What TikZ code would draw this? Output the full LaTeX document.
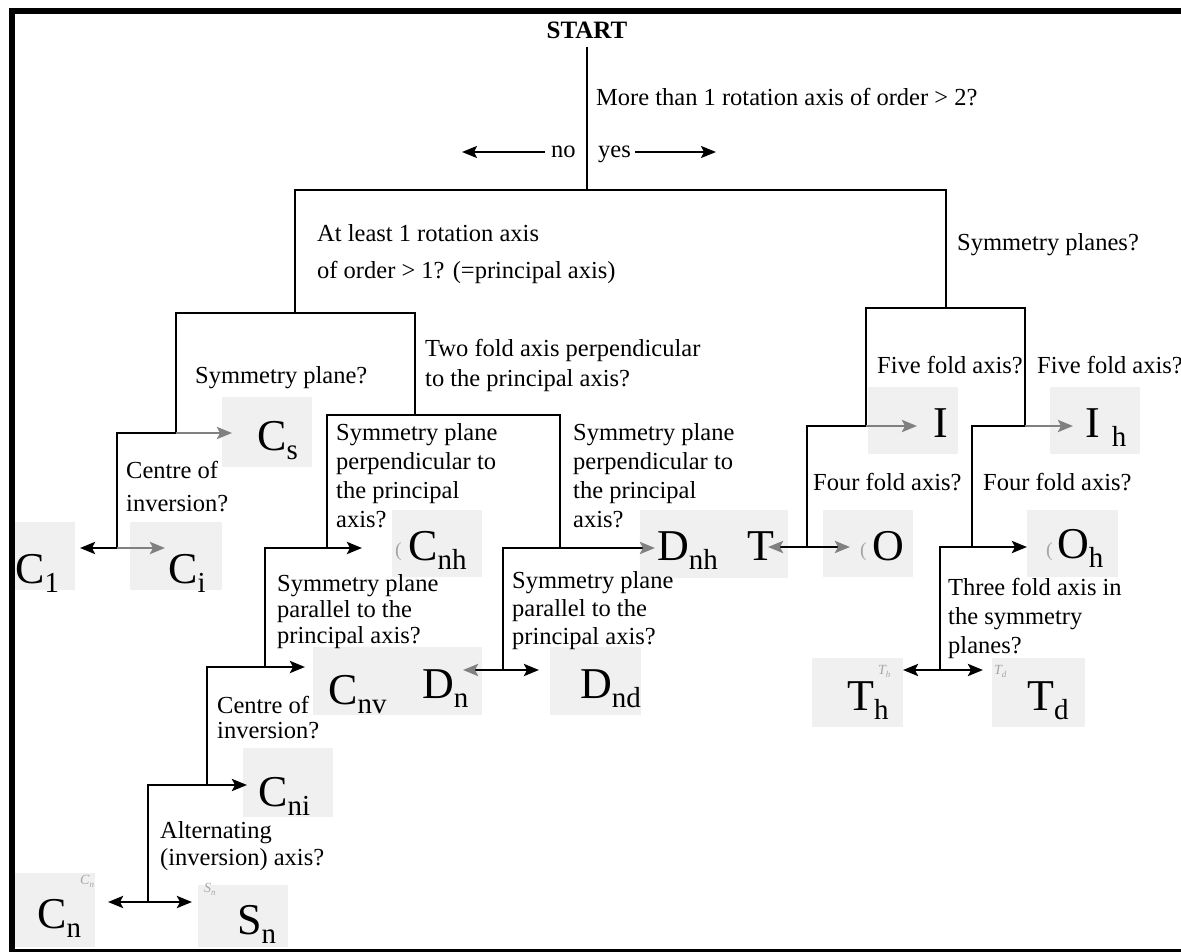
\documentclass[tikz,border=0pt]{standalone}
\usepackage{fontspec}
\setmainfont{Liberation Serif}
\usetikzlibrary{arrows.meta}
\definecolor{boxgray}{RGB}{240,240,240}
\definecolor{argray}{RGB}{128,128,128}
\definecolor{ghostgray}{RGB}{165,165,165}
\newcommand{\grp}[2]{{\fontsize{44}{44}\selectfont #1}\raisebox{-9pt}{\fontsize{29}{29}\selectfont #2}}
\newcommand{\ghostlab}[2]{{\fontsize{14}{14}\selectfont\itshape #1}\raisebox{-3pt}{\fontsize{9}{9}\selectfont\itshape #2}}
\begin{document}
\begin{tikzpicture}[x=1pt,y=-1pt,
  ln/.style={line width=2.8pt, line join=miter},
  arr/.style={ln, -{Stealth[length=15pt,width=12pt,inset=3pt]}},
  garr/.style={ln, draw=argray, -{Stealth[length=15pt,width=12pt,inset=3pt]}},
  ghead/.style={ln, -{Stealth[length=15pt,width=12pt,inset=3pt,color=argray]}},
  gbox/.style={fill=boxgray, draw=none, inner sep=0pt},
  lab/.style={inner sep=0pt, anchor=base west},
  q/.style={inner sep=0pt, anchor=north west, align=left, font=\fontsize{24.5}{29}\selectfont},
  ghost/.style={inner sep=0pt, text=ghostgray, anchor=base west}]
\useasboundingbox (0,0) rectangle (1181,952);

% ---------- grey label boxes ----------
\node[gbox, minimum width=60pt, minimum height=68pt] (bC1) at (45,556) {};
\node[gbox, minimum width=92pt, minimum height=68pt] (bCi) at (176,556) {};
\node[gbox, minimum width=90pt, minimum height=70pt] (bCs) at (267,432) {};
\node[gbox, minimum width=90pt, minimum height=67pt] (bCnh) at (437,543.5) {};
\node[gbox, minimum width=93pt, minimum height=68pt] (bDnh) at (686.5,544) {};
\node[gbox, minimum width=55pt, minimum height=68pt] (bT) at (760.5,544) {};
\node[gbox, minimum width=90pt, minimum height=67pt] (bO) at (868,543.5) {};
\node[gbox, minimum width=91pt, minimum height=67pt] (bOh) at (1072.5,543.5) {};
\node[gbox, minimum width=90pt, minimum height=67pt] (bI) at (913,420.5) {};
\node[gbox, minimum width=90pt, minimum height=67pt] (bIh) at (1095,420.5) {};
\node[gbox, minimum width=90pt, minimum height=68pt] (bCnv) at (358,681) {};
\node[gbox, minimum width=79pt, minimum height=68pt] (bDn) at (442.5,681) {};
\node[gbox, minimum width=91pt, minimum height=68pt] (bDnd) at (595.5,681) {};
\node[gbox, minimum width=90pt, minimum height=69pt] (bCni) at (288,782.5) {};
\node[gbox, minimum width=80pt, minimum height=74pt] (bCn) at (55,910) {};
\node[gbox, minimum width=90pt, minimum height=62pt] (bSn) at (243,916) {};
\node[gbox, minimum width=91pt, minimum height=69pt] (bTh) at (857.5,692.5) {};
\node[gbox, minimum width=93pt, minimum height=69pt] (bTd) at (1038.5,692.5) {};

% ---------- frame ----------
\draw[line width=6pt, line join=miter] (12,951) -- (12,11) -- (1181,11);
\draw[line width=3pt] (9,950) -- (1181,950);

% ---------- texts ----------
\node[inner sep=0pt, font=\bfseries\fontsize{25}{29}\selectfont] (start) at (587,30) {START};
\node[q] (qmore) at (596,88) {More than 1 rotation axis of order > 2?};
\node[q, anchor=base west] (no) at (551,158) {no};
\node[q, anchor=base west] (yes) at (598,158) {yes};
\node[q, font=\fontsize{24.5}{37}\selectfont] (qleast) at (317,224) {At least 1 rotation axis\\of order > 1? (=principal axis)};
\node[q] (qsplanes) at (957,233) {Symmetry planes?};
\node[q] (qsplane) at (195,366) {Symmetry plane?};
\node[q, font=\fontsize{24.5}{30}\selectfont] (qtwo) at (425,339) {Two fold axis perpendicular\\to the principal axis?};
\node[q, font=\fontsize{24.5}{33}\selectfont] (qcentreA) at (126,461) {Centre of\\inversion?};
\node[q] (qperpA) at (336,423) {Symmetry plane\\perpendicular to\\the principal\\axis?};
\node[q] (qperpB) at (573,423) {Symmetry plane\\perpendicular to\\the principal\\axis?};
\node[q, font=\fontsize{24.5}{26}\selectfont] (qparA) at (277,574) {Symmetry plane\\parallel to the\\principal axis?};
\node[q, font=\fontsize{24.5}{28}\selectfont] (qparB) at (512,571) {Symmetry plane\\parallel to the\\principal axis?};
\node[q, font=\fontsize{24.5}{25}\selectfont] (qcentreB) at (217,696) {Centre of\\inversion?};
\node[q, font=\fontsize{24.5}{27}\selectfont] (qalt) at (160,821) {Alternating\\(inversion) axis?};
\node[q] (qfiveA) at (877,356) {Five fold axis?};
\node[q] (qfiveB) at (1037,356) {Five fold axis?};
\node[q] (qfourA) at (813,473) {Four fold axis?};
\node[q] (qfourB) at (983,473) {Four fold axis?};
\node[q, font=\fontsize{24.5}{29}\selectfont] (qthree) at (948,578) {Three fold axis in\\the symmetry\\planes?};

% ---------- junctions and arrow ends ----------
\coordinate (j0) at (587,190);
\coordinate (jL) at (295,190);  \coordinate (jR) at (946,190);
\coordinate (jL1) at (295,313);
\coordinate (a1) at (176,313);  \coordinate (a2) at (415,313);
\coordinate (a1b) at (176,433); \coordinate (c1) at (117,433);
\coordinate (c1b) at (117,548);
\coordinate (a2b) at (415,415); \coordinate (d1) at (327,415); \coordinate (d2) at (560,415);
\coordinate (d1b) at (327,548); \coordinate (e1) at (265,548);
\coordinate (e1b) at (265,667); \coordinate (f1) at (207,667);
\coordinate (f1b) at (207,785); \coordinate (g1) at (148,785);
\coordinate (g1b) at (148,902);
\coordinate (d2b) at (560,548); \coordinate (h1) at (503,548);
\coordinate (h1b) at (503,670);
\coordinate (jR1) at (946,308); \coordinate (r1) at (866,308); \coordinate (r2) at (1025,308);
\coordinate (r1b) at (866,426); \coordinate (s1) at (807,426);
\coordinate (s1b) at (807,547);
\coordinate (r2b) at (1025,426); \coordinate (t1) at (972,426);
\coordinate (t1b) at (972,547); \coordinate (u1) at (940,547);
\coordinate (u1b) at (940,670);
\coordinate (tNo) at (462,152); \coordinate (tYes) at (716,152);
\coordinate (tCs) at (232,433); \coordinate (tCi) at (165,548); \coordinate (tC1) at (80,548);
\coordinate (tCnh) at (362,548); \coordinate (tCnv) at (305,667); \coordinate (tCni) at (247,785);
\coordinate (tCn) at (108,902); \coordinate (tSn) at (192,902);
\coordinate (tDnh) at (655,548); \coordinate (tDn) at (463,670); \coordinate (tDnd) at (539,670);
\coordinate (tI) at (917,426); \coordinate (tIh) at (1073,426);
\coordinate (tT) at (768,547); \coordinate (tO) at (850,547); \coordinate (tOh) at (1027,547);
\coordinate (tTh) at (903,670); \coordinate (tTd) at (983,670);

% ---------- connectors ----------
\draw[ln, shorten <=8pt] (start) -- (j0);
\draw[arr, line width=2.2pt, shorten <=6pt] (no.west |- tNo) -- (tNo);
\draw[arr, line width=2.2pt, shorten <=4pt] (yes.east |- tYes) -- (tYes);
\draw[ln] (jL1) -- (jL) -- (jR) -- (jR1);
\draw[ln] (a1b) -- (a1) -- (a2) -- (a2b);
\draw[ln] (c1b) -- (c1) -- (a1b);
\draw[garr] (a1b) -- (tCs);
\draw[arr] (c1b) -- (tC1);
\draw[garr] (c1b) -- (tCi);
\draw[ln] (d1b) -- (d1) -- (d2) -- (d2b);
\draw[ln] (e1b) -- (e1) -- (d1b);
\draw[arr] (d1b) -- (tCnh);
\draw[ln] (f1b) -- (f1) -- (e1b);
\draw[arr] (e1b) -- (tCnv);
\draw[ln] (g1b) -- (g1) -- (f1b);
\draw[arr] (f1b) -- (tCni);
\draw[arr] (g1b) -- (tCn);
\draw[arr] (g1b) -- (tSn);
\draw[ln] (h1b) -- (h1) -- (d2b);
\draw[ghead] (d2b) -- (tDnh);
\draw[ghead] (h1b) -- (tDn);
\draw[arr] (h1b) -- (tDnd);
\draw[ln] (r1b) -- (r1) -- (r2) -- (r2b);
\draw[ln] (s1b) -- (s1) -- (r1b);
\draw[garr] (r1b) -- (tI);
\draw[ghead] (s1b) -- (tT);
\draw[ghead] (s1b) -- (tO);
\draw[ln] (u1b) -- (u1) -- (t1b) -- (t1) -- (r2b);
\draw[garr] (r2b) -- (tIh);
\draw[arr] (t1b) -- (tOh);
\draw[arr] (u1b) -- (tTh);
\draw[arr] (u1b) -- (tTd);

% ---------- faint marks ----------
\node[ghost] (gCn) at (80,884) {\ghostlab{C}{n}};
\node[ghost] (gSn) at (204,892) {\ghostlab{S}{n}};
\node[ghost] (gTh) at (878,674) {\ghostlab{T}{h}};
\node[ghost] (gTd) at (994,674) {\ghostlab{T}{d}};
\node[ghost, font=\fontsize{20}{20}\selectfont] (pCnh) at (395,556) {(};
\node[ghost, font=\fontsize{20}{20}\selectfont] (pO) at (860,556) {(};
\node[ghost, font=\fontsize{20}{20}\selectfont] (pOh) at (1046,556) {(};

% ---------- point-group labels ----------
\node[lab] (lC1) at (15,583) {\grp{C}{1}};
\node[lab] (lCi) at (168,583) {\grp{C}{i}};
\node[lab] (lCs) at (257,450) {\grp{C}{s}};
\node[lab] (lCnh) at (408,560) {\grp{C}{nh}};
\node[lab] (lDnh) at (657,560) {\grp{D}{nh}};
\node[lab] (lT) at (747,560) {\grp{T}{}};
\node[lab] (lO) at (872,560) {\grp{O}{}};
\node[lab] (lOh) at (1057,558) {\grp{O}{h}};
\node[lab] (lI) at (933,437) {\grp{I}{}};
\node[lab] (lIh) at (1085,437) {\grp{I}{\hspace{12pt}h}};
\node[lab] (lCnv) at (328,704) {\grp{C}{nv}};
\node[lab] (lDn) at (422,698) {\grp{D}{n}};
\node[lab] (lDnd) at (580,698) {\grp{D}{nd}};
\node[lab] (lCni) at (258,806) {\grp{C}{ni}};
\node[lab] (lCn) at (37,928) {\grp{C}{n}};
\node[lab] (lSn) at (237,934) {\grp{S}{n}};
\node[lab] (lTh) at (847,710) {\grp{T}{h}};
\node[lab] (lTd) at (1027,710) {\grp{T}{d}};
\end{tikzpicture}
\end{document}
